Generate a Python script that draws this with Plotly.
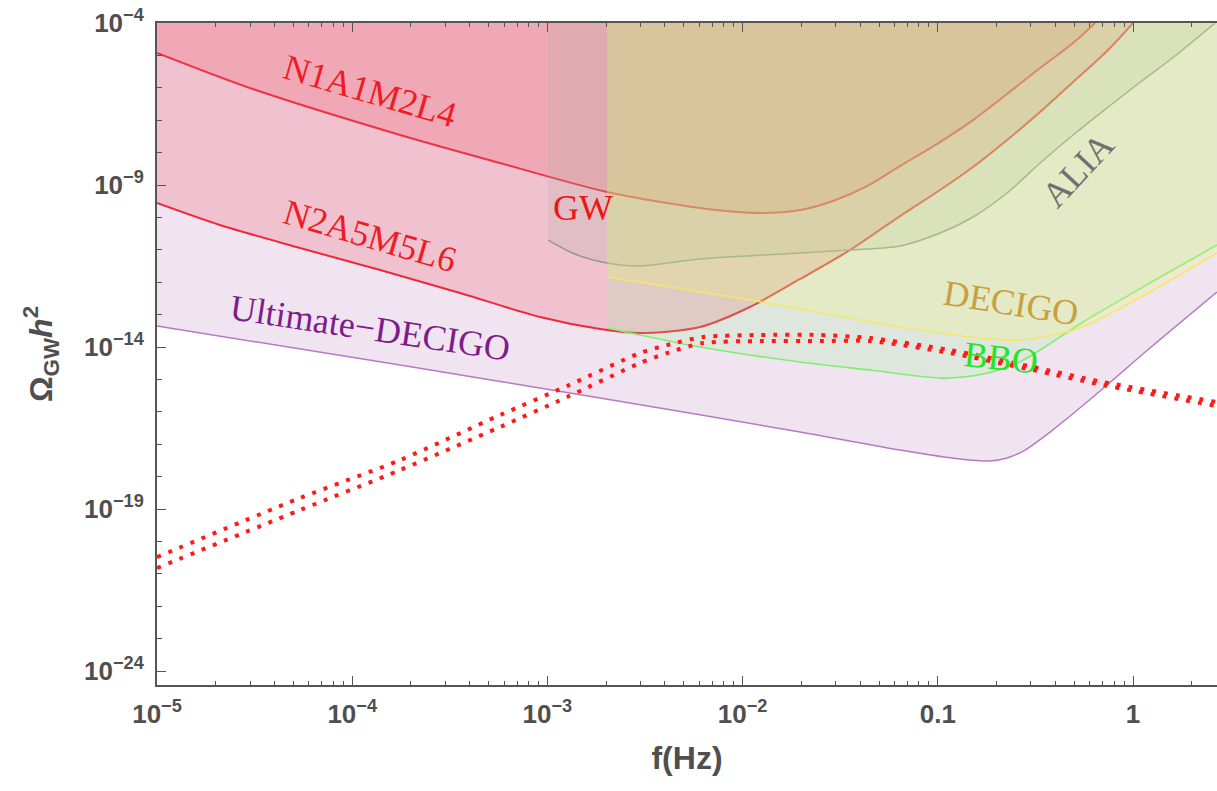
import numpy as np
import plotly.graph_objects as go

# ---------------------------------------------------------------- axes
F_RANGE_LOG = [-5.0, 0.43]          # log10(f / Hz)
OMEGA_RANGE_LOG = [-24.43, -4.0]    # log10(Omega_GW h^2)
OMEGA_TOP = 1e-4

x_tick_vals = [1e-5, 1e-4, 1e-3, 1e-2, 0.1, 1]
x_tick_text = ["10<sup>−5</sup>", "10<sup>−4</sup>", "10<sup>−3</sup>",
               "10<sup>−2</sup>", "0.1", "1"]
y_tick_vals = [1e-24, 1e-19, 1e-14, 1e-9, 1e-4]
y_tick_text = ["10<sup>−24</sup>", "10<sup>−19</sup>", "10<sup>−14</sup>",
               "10<sup>−9</sup>", "10<sup>−4</sup>"]

# ------------------------------------------------ detector sensitivities
ud_f = [1e-5, 1.76e-4, 1.86e-3, 1.97e-2, 6.40e-2, 0.130, 0.185, 0.226,
        0.280, 0.376, 0.678, 1.22, 2.69]
ud_omega = [4.45e-14, 2.78e-15, 2.67e-16, 2.38e-17, 6.62e-18, 3.49e-18,
            3.03e-18, 3.75e-18, 6.62e-18, 2.38e-17, 4.39e-16, 9.31e-15,
            4.99e-13]

n1_f = [1e-5, 2.99e-5, 1.76e-4, 5.72e-4, 2.02e-3, 6.05e-3, 1.23e-2,
        1.97e-2, 2.90e-2, 4.34e-2, 6.40e-2, 0.1026, 0.1514, 0.2262,
        0.334, 0.493, 0.639]
n1_omega = [1.19e-5, 9.86e-7, 3.49e-8, 4.77e-9, 6.08e-10, 1.95e-10,
            1.37e-10, 1.69e-10, 3.21e-10, 9.31e-10, 3.85e-9, 2.12e-8,
            1.01e-7, 6.44e-7, 4.08e-6, 2.42e-5, 1e-4]

n2_f = [1e-5, 2.10e-5, 5.40e-5, 1.39e-4, 3.57e-4, 9.17e-4, 1.86e-3,
        2.98e-3, 6.05e-3, 1.09e-2, 1.97e-2, 3.55e-2, 6.40e-2, 0.1026,
        0.1514, 0.2262, 0.334, 0.493, 0.736, 1.00]
n2_omega = [2.78e-10, 5.82e-11, 1.14e-11, 2.38e-12, 4.65e-13, 8.44e-14,
            3.60e-14, 2.70e-14, 4.14e-14, 1.72e-13, 1.26e-12, 9.86e-12,
            1.10e-10, 7.02e-10, 3.60e-9, 2.45e-8, 1.79e-7, 1.51e-6,
            1.37e-5, 1e-4]

alia_f = [1.01e-3, 1.38e-3, 2.02e-3, 2.98e-3, 6.05e-3, 1.97e-2, 3.55e-2,
          6.40e-2, 0.1026, 0.1514, 0.2262, 0.334, 0.493, 0.736, 1.09,
          1.64, 2.63]
alia_omega = [2.00e-11, 7.41e-12, 3.92e-12, 3.16e-12, 5.20e-12, 7.96e-12,
              9.86e-12, 1.31e-11, 3.30e-11, 1.03e-10, 5.66e-10, 4.77e-9,
              3.49e-8, 2.38e-7, 1.51e-6, 9.58e-6, 1e-4]

bbo_f = [2.02e-3, 6.05e-3, 1.97e-2, 0.045, 0.106, 0.171, 0.255, 0.334,
         0.555, 1.22, 2.69]
bbo_omega = [3.86e-14, 1.0e-14, 3.44e-15, 1.95e-15, 1.10e-15, 1.47e-15,
             3.21e-15, 8.07e-15, 5.92e-14, 9.45e-13, 1.41e-11]

decigo_f = [2.02e-3, 1.09e-2, 6.40e-2, 0.164, 0.264, 0.535, 1.22, 2.69]
decigo_omega = [1.45e-12, 2.82e-13, 4.14e-14, 1.90e-14, 1.64e-14,
                3.86e-14, 4.99e-13, 7.96e-12]

# ------------------------------------------------ predicted GW spectra
sig_f = [1e-5, 5.40e-5, 1.76e-4, 5.72e-4, 1.26e-3, 2.98e-3, 4.10e-3,
         6.27e-3, 1.23e-2, 2.49e-2, 4.49e-2, 0.1155, 0.307, 0.702, 2.69]
sig1_omega = [3.30e-21, 2.19e-19, 3.25e-18, 7.96e-17, 6.25e-16, 6.53e-15,
              1.15e-14, 2.04e-14, 2.35e-14, 2.35e-14, 1.90e-14, 8.07e-15,
              2.42e-15, 8.32e-16, 2.00e-16]
sig2_omega = [1.51e-21, 9.31e-20, 1.60e-18, 3.40e-17, 2.86e-16, 3.21e-15,
              6.53e-15, 1.33e-14, 1.53e-14, 1.53e-14, 1.53e-14, 6.53e-15,
              1.95e-15, 6.71e-16, 1.51e-16]

fig = go.Figure()


def add_band(f, omega, line_color, line_width, fill_color):
    """Sensitivity curve with the region above it shaded up to the top."""
    fig.add_trace(go.Scatter(
        x=[f[0], f[-1]], y=[OMEGA_TOP, OMEGA_TOP], mode="lines",
        line=dict(width=0, color="rgba(0,0,0,0)"),
        hoverinfo="skip", showlegend=False))
    fig.add_trace(go.Scatter(
        x=f, y=omega, mode="lines",
        line=dict(color=line_color, width=line_width,
                  shape="spline", smoothing=0.8),
        fill="tonexty", fillcolor=fill_color,
        hoverinfo="skip", showlegend=False))


add_band(ud_f, ud_omega, "#b679c4", 1.5, "rgba(180,120,185,0.2)")
add_band(n1_f, n1_omega, "#ec2a3c", 2.0, "rgba(240,80,100,0.23)")
add_band(n2_f, n2_omega, "#ec2a3c", 2.0, "rgba(240,80,100,0.23)")
add_band(alia_f, alia_omega, "#959595", 1.5, "rgba(175,176,160,0.22)")
add_band(bbo_f, bbo_omega, "#7cf06c", 1.6, "rgba(155,238,151,0.2)")
add_band(decigo_f, decigo_omega, "#f2e86a", 1.6, "rgba(243,250,98,0.2)")

for om in (sig1_omega, sig2_omega):
    fig.add_trace(go.Scatter(
        x=sig_f, y=om, mode="lines",
        line=dict(color="#ff1a1a", width=4, dash="4px,8px",
                  shape="spline", smoothing=0.7),
        hoverinfo="skip", showlegend=False))

# ---------------------------------------------------------------- labels
SERIF = "Liberation Serif"
labels = [
    ("N1A1M2L4", 10**-3.909, 10**-6.10, 16.3, "#f01c24"),
    ("N2A5M5L6", 10**-3.909, 10**-10.57, 16.4, "#f01c24"),
    ("Ultimate−DECIGO", 10**-3.909, 10**-13.41, 8.5, "#7f1c8c"),
    ("GW", 10**-2.818, 10**-9.71, 0, "#f01414"),
    ("ALIA", 10**-0.282, 10**-8.54, -47, "#707070"),
    ("DECIGO", 10**-0.625, 10**-12.64, 9, "#c8a040"),
    ("BBO", 10**-0.676, 10**-14.34, 6, "#22e622"),
]
for text, fx, oy, ang, col in labels:
    fig.add_annotation(
        x=np.log10(fx), y=np.log10(oy), xref="x", yref="y",
        text=text, showarrow=False, textangle=ang,
        xanchor="center", yanchor="middle",
        font=dict(family=SERIF, size=36, color=col))

# ---------------------------------------------------------------- axes
AX_COL = "#555555"
TICK_FONT = dict(family="Liberation Sans", size=26, color="#4f4f4f",
                 weight="bold")
TITLE_FONT = dict(family="Liberation Sans", size=32, color="#4f4f4f",
                  weight="bold")

x_minor = [k * 10.0**d for d in range(-5, 1) for k in range(2, 10)
           if k * 10.0**d < 10**F_RANGE_LOG[1]]
y_minor = [10.0**n for n in range(-24, -4) if (n + 4) % 5 != 0]

fig.update_xaxes(
    type="log", range=F_RANGE_LOG, showgrid=False, zeroline=False,
    showline=True, linecolor=AX_COL, linewidth=2, mirror="ticks",
    ticks="inside", ticklen=9, tickwidth=1.2, tickcolor=AX_COL,
    tickmode="array", tickvals=x_tick_vals, ticktext=x_tick_text,
    tickfont=TICK_FONT, ticklabelstandoff=5,
    minor=dict(tickmode="array", tickvals=x_minor, ticks="inside",
               ticklen=4, tickwidth=1, tickcolor=AX_COL, showgrid=False),
    title=dict(text="f(Hz)", font=TITLE_FONT, standoff=18),
)
fig.update_yaxes(
    type="log", range=OMEGA_RANGE_LOG, showgrid=False, zeroline=False,
    showline=True, linecolor=AX_COL, linewidth=2, mirror=False,
    ticks="inside", ticklen=9, tickwidth=1.2, tickcolor=AX_COL,
    tickmode="array", tickvals=y_tick_vals, ticktext=y_tick_text,
    tickfont=TICK_FONT, ticklabelstandoff=6,
    minor=dict(tickmode="array", tickvals=y_minor, ticks="inside",
               ticklen=5, tickwidth=1, tickcolor=AX_COL, showgrid=False),
    title=dict(text="Ω<sub>GW</sub><i>h</i><sup>2</sup>", font=TITLE_FONT,
               standoff=22),
)

fig.update_layout(
    width=1217, height=791,
    margin=dict(l=157, r=0, t=23, b=106),
    paper_bgcolor="white", plot_bgcolor="white",
    showlegend=False,
)

fig.write_html("out.html")
